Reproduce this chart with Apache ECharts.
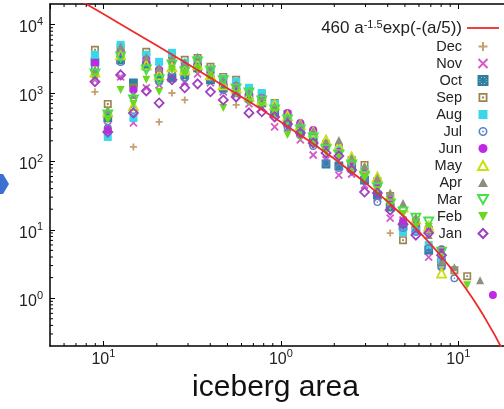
<!DOCTYPE html>
<html>
<head>
<meta charset="utf-8">
<script src="https://cdn.jsdelivr.net/npm/echarts@6/dist/echarts.min.js"></script>
<style>
  html, body { margin: 0; padding: 0; background: #fff; }
  #chart { width: 504px; height: 409px; }
</style>
</head>
<body>
<div id="chart"></div>
<script>
const FONT = '"Liberation Sans", Arial, Helvetica, sans-serif';

// iceberg area bins (one column of points per bin)
const AREA = [0.0896, 0.1058, 0.125, 0.1476, 0.1744, 0.206, 0.2433, 0.2873, 0.3394, 0.401,
  0.4736, 0.5596, 0.661, 0.7807, 0.9224, 1.09, 1.287, 1.521, 1.796, 2.122,
  2.506, 2.961, 3.498, 4.13, 4.88, 5.764, 6.808, 8.043, 9.5, 11.22, 13.26, 15.66];

// counts per month, same order as AREA (null = no point)
const DEC = [1040, null, null, 163, null, 378, 1000, 792, null, null, null, 670, null, null, null, null,
  null, null, null, null, null, null, null, 8.95, null, null, null, null, null, null, null, null];
const NOV = [1560, 330, 1720, 365, 1190, 1310, 1780, 1460, 1900, 1410, 1040, 938, 692, 605, 319, 308,
  206, 124, 105, 63.2, 65.4, 45.1, 29.1, 14.8, 13.9, 10.6, 3.98, null, null, null, null, null];
const OCT = [2850, 432, 3050, 1410, 2490, 1660, 1660, 1840, 2330, 1560, 1190, 1040, 848, 716, 530, 378,
  269, 193, 91.6, 85.6, 80, 53.4, 32.2, 21.5, 11.3, 9.9, 5.04, 3.37, null, null, null, null];
const SEP = [4280, 692, 4600, 1190, 4000, 2040, 3610, 3050, 3260, 2410, 1720, 1560, 1110, 938, 716, 495,
  330, 260, 180, 157, 105, 88.6, 51.6, 31.1, 7.06, 13.0, 9.9, 3.04, 2.57, 2.10, null, null];
const AUG = [3610, 228, 5060, 432, 3610, 2850, 3870, 2760, 3050, 2180, 1610, 1460, 1190, 1000, 692, 478,
  319, 252, 168, 147, 101, 74.8, 48.3, 29.1, 9.25, 9.6, 5.97, 3.60, null, null, null, null];
const JUL = [2330, 308, 2850, 566, 2330, 1460, 2040, 1660, 2490, 1660, 1110, 1000, 792, 692, 495, 319,
  252, 168, 94.7, 80, 82.8, 55.2, 25.4, 23.0, 10.6, 9.25, 5.37, 2.84, 1.96, null, null, null];
const JUN = [2760, 288, 4000, 1110, 3050, 2180, 2850, 2490, 2670, 1970, 1410, 1270, 938, 848, 605, 512,
  365, 288, 163, 138, 94.7, 69.9, 45.1, 27.2, 13.4, 12.1, 10.6, 5.19, null, null, null, 1.11];
const MAY = [2040, 530, 3610, 648, 2580, 1840, 2410, 2180, 2580, 1840, 1310, 1190, 907, 792, 670, 463,
  341, 269, 206, 168, 116, 80, 59.1, 32.2, 21.5, 14.3, 11.3, 2.32, null, null, null, null];
const APR = [2180, 566, 4800, 938, 3380, 2330, 3260, 2850, 3380, 2330, 1560, 1360, 1040, 877, 648, 447,
  353, 279, 193, 206, 112, 85.6, 57.1, 34.4, 24.6, 15.3, 8.36, 3.48, 2.84, null, 1.83, null];
const MAR = [1900, 478, 3380, 792, 2180, 1560, 2580, 2040, 2850, 2110, 1510, 1150, 1000, 765, 566, 404,
  288, 220, 147, 124, 88.6, 61.1, 40.8, 23.8, 18.2, 14.8, 13.0, 4.71, null, null, null, null];
const FEB = [1720, 404, 1110, 692, 1560, 1040, 2180, 1970, 2180, 1720, 605, 970, 740, 648, 512, 244,
  220, 174, 138, 116, 69.9, 57.1, 38.1, 22.2, 17.0, 11.0, 11.0, 3.98, null, 1.55, null, null];
const JAN = [1460, 269, 1840, 512, 1070, 716, 1560, 1190, 1360, 1040, 792, 877, 512, 530, 447, 353,
  260, 186, 133, 120, 74.8, 35.6, 34.4, 19.4, 12.1, 8.36, 8.95, 4.26, null, null, null, null];

// fit curve 460 a^-1.5 exp(-(a/5)), sampled
const FIT_A = [0.07, 0.1, 0.15, 0.2, 0.3, 0.5, 0.7, 1, 1.5, 2, 3, 4, 5, 6, 7, 8, 9, 10, 11, 12, 13, 14, 16, 18, 20];
const FIT_N = [24490, 14258, 7684, 4941, 2636, 1177, 682.8, 376.6, 185.5, 109.0, 48.59, 25.84, 15.14, 9.427,
  6.125, 4.104, 2.816, 1.969, 1.397, 1.004, 0.729, 0.534, 0.293, 0.1646, 0.0942];
const FIT_NAME = '460 a^-1.5 exp(-(a/5))';

const X_MIN = 0.05, X_MAX = 30, Y_MIN = 0.2, Y_MAX = 20000;
const X_TICKS = [0.1, 1, 10];
const X_TICK_EXP = ['1', '0', '1'];
const X_MINOR = [0.06, 0.07, 0.08, 0.09, 0.2, 0.3, 0.4, 0.5, 0.6, 0.7, 0.8, 0.9, 2, 3, 4, 5, 6, 7, 8, 9, 20];
const Y_MINOR = [];
[0.1, 1, 10, 100, 1000].forEach(b => {
  for (let k = 2; k <= 9; k++) if (k * b > Y_MIN && k * b < Y_MAX) Y_MINOR.push(+(k * b).toPrecision(3));
});

// marker shapes (paths keep their aspect in the legend too)
const SYM = {
  plus: 'path://M5 0V10M0 5H10',
  cross: 'path://M0 0L10 10M10 0L0 10',
  starBox: 'path://M0 0H10V10H0Z M0 0L10 10M10 0L0 10M5 0V10M0 5H10',
  dotBox: 'path://M0 0H10V10H0Z M2 2V8H8V2Z M3.8 3.8H6.2V6.2H3.8Z',
  box: 'path://M0 0H10V10H0Z',
  dotCircle: 'path://M5 0A5 5 0 1 1 5 10A5 5 0 1 1 5 0Z M5 1.8A3.2 3.2 0 1 0 5 8.2A3.2 3.2 0 1 0 5 1.8Z M5 4A1 1 0 1 1 5 6A1 1 0 1 1 5 4Z',
  circle: 'path://M5 0A5 5 0 1 1 5 10A5 5 0 1 1 5 0Z',
  up: 'path://M5 0L10 9H0Z',
  down: 'path://M0 0H10L5 9Z',
  diamond: 'path://M5 0L10 5L5 10L0 5Z'
};

const HOLLOW = 'rgba(0,0,0,0)';
const MONTHS = [
  { name: 'Dec', data: DEC, symbol: SYM.plus, size: 7, stroke: '#c8a070' },
  { name: 'Nov', data: NOV, symbol: SYM.cross, size: 7, stroke: '#d858c8' },
  { name: 'Oct', data: OCT, symbol: SYM.starBox, size: 7, stroke: '#2f7fa0' },
  { name: 'Sep', data: SEP, symbol: SYM.dotBox, size: 8, fill: '#9a8450' },
  { name: 'Aug', data: AUG, symbol: SYM.box, size: 8, fill: '#38d8e8' },
  { name: 'Jul', data: JUL, symbol: SYM.dotCircle, size: 8, fill: '#5a82c8' },
  { name: 'Jun', data: JUN, symbol: SYM.circle, size: 8, fill: '#c028e8' },
  { name: 'May', data: MAY, symbol: SYM.up, size: 9, stroke: '#c8e010' },
  { name: 'Apr', data: APR, symbol: SYM.up, size: 8, fill: '#8e8e80' },
  { name: 'Mar', data: MAR, symbol: SYM.down, size: 9, stroke: '#48e048' },
  { name: 'Feb', data: FEB, symbol: SYM.down, size: 8, fill: '#6ad820' },
  { name: 'Jan', data: JAN, symbol: SYM.diamond, size: 9, stroke: '#a040c0' }
];

const supRich = {
  b: { fontFamily: FONT, fontSize: 16, color: '#222', lineHeight: 16, padding: [7, 0, 0, 0] },
  s: { fontFamily: FONT, fontSize: 11, color: '#222', lineHeight: 11, verticalAlign: 'top' }
};

function minorTicks(values, dir) {
  return {
    type: 'custom', silent: true, clip: false, z: 5,
    data: values.map(v => dir === 'x' ? [v, 1] : [1, v]),
    renderItem: (params, api) => {
      const style = { stroke: '#000', lineWidth: 1 };
      if (dir === 'x') {
        const b = api.coord([api.value(0), Y_MIN]);
        const t = api.coord([api.value(0), Y_MAX]);
        return { type: 'group', children: [
          { type: 'line', shape: { x1: b[0], y1: b[1], x2: b[0], y2: b[1] - 3 }, style },
          { type: 'line', shape: { x1: t[0], y1: t[1], x2: t[0], y2: t[1] + 3 }, style }
        ] };
      }
      const l = api.coord([X_MIN, api.value(1)]);
      return { type: 'line', shape: { x1: l[0], y1: l[1], x2: l[0] + 3, y2: l[1] }, style };
    }
  };
}

const axisCommon = {
  type: 'log',
  axisLine: { onZero: false, lineStyle: { color: '#000', width: 1.5 } },
  axisTick: { inside: true, length: 5, lineStyle: { color: '#000', width: 1 } },
  splitLine: { show: false }
};

const chart = echarts.init(document.getElementById('chart'));
chart.setOption({
  animation: false,
  grid: { left: 50, top: 4, width: 493, height: 342, containLabel: false, outerBoundsMode: 'none' },
  graphic: [{
    type: 'polygon',
    shape: { points: [[0, 174], [3, 174], [9, 184], [3, 194], [0, 194]] },
    style: { fill: '#3b6fd0' }
  }],
  legend: {
    orient: 'vertical', right: 0, top: 14, align: 'right',
    itemWidth: 32, itemHeight: 9, itemGap: 2,
    textStyle: {
      fontFamily: FONT, fontSize: 14.5, color: '#222', lineHeight: 14,
      rich: {
        s: { fontFamily: FONT, fontSize: 11, color: '#222', lineHeight: 10, padding: [0, 0, 7, 0] },
        f: { fontFamily: FONT, fontSize: 17, color: '#222', lineHeight: 14 }
      }
    },
    formatter: n => n === FIT_NAME ? '{f|460 a}{s|-1.5}{f|exp(-(a/5))}' : n,
    data: [{ name: FIT_NAME, icon: 'path://M0 0H32V1.8H0Z' }].concat(MONTHS.map(m => m.name))
  },
  xAxis: [
    Object.assign({}, axisCommon, {
      min: X_MIN, max: X_MAX, position: 'bottom',
      axisLabel: {
        margin: 2, showMinLabel: false, showMaxLabel: false,
        formatter: v => {
          const i = X_TICKS.findIndex(t => Math.abs(t - v) / t < 1e-6);
          return i < 0 ? '' : '{b|10}{s|' + X_TICK_EXP[i] + '}';
        },
        rich: supRich
      },
      name: 'iceberg area', nameLocation: 'middle', nameGap: 25,
      nameTextStyle: { fontFamily: FONT, fontSize: 30, color: '#111', padding: [0, 42, 0, 0] }
    }),
    Object.assign({}, axisCommon, {
      min: X_MIN, max: X_MAX, position: 'top', axisLabel: { show: false }
    })
  ],
  yAxis: Object.assign({}, axisCommon, {
    min: Y_MIN, max: Y_MAX,
    axisLabel: {
      margin: 7, showMinLabel: false, showMaxLabel: false,
      formatter: v => '{b|10}{s|' + Math.round(Math.log10(v)) + '}',
      rich: supRich
    }
  }),
  series: [{
    name: FIT_NAME, type: 'line', z: 4, symbol: 'none', clip: true,
    lineStyle: { color: '#ee2a2a', width: 1.8 },
    itemStyle: { color: '#ee2a2a' },
    data: FIT_A.map((a, i) => [a, FIT_N[i]])
  }].concat(MONTHS.map(m => ({
    name: m.name, type: 'scatter', z: 2,
    symbol: m.symbol, symbolSize: m.size,
    itemStyle: m.fill
      ? { color: m.fill, opacity: 1 }
      : { color: HOLLOW, borderColor: m.stroke, borderWidth: 1.8, opacity: 1 },
    data: AREA.map((a, i) => [a, m.data[i]]).filter(d => d[1] != null)
  }))).concat([minorTicks(X_MINOR, 'x'), minorTicks(Y_MINOR, 'y')])
});
window.addEventListener('resize', () => chart.resize());
</script>
</body>
</html>
